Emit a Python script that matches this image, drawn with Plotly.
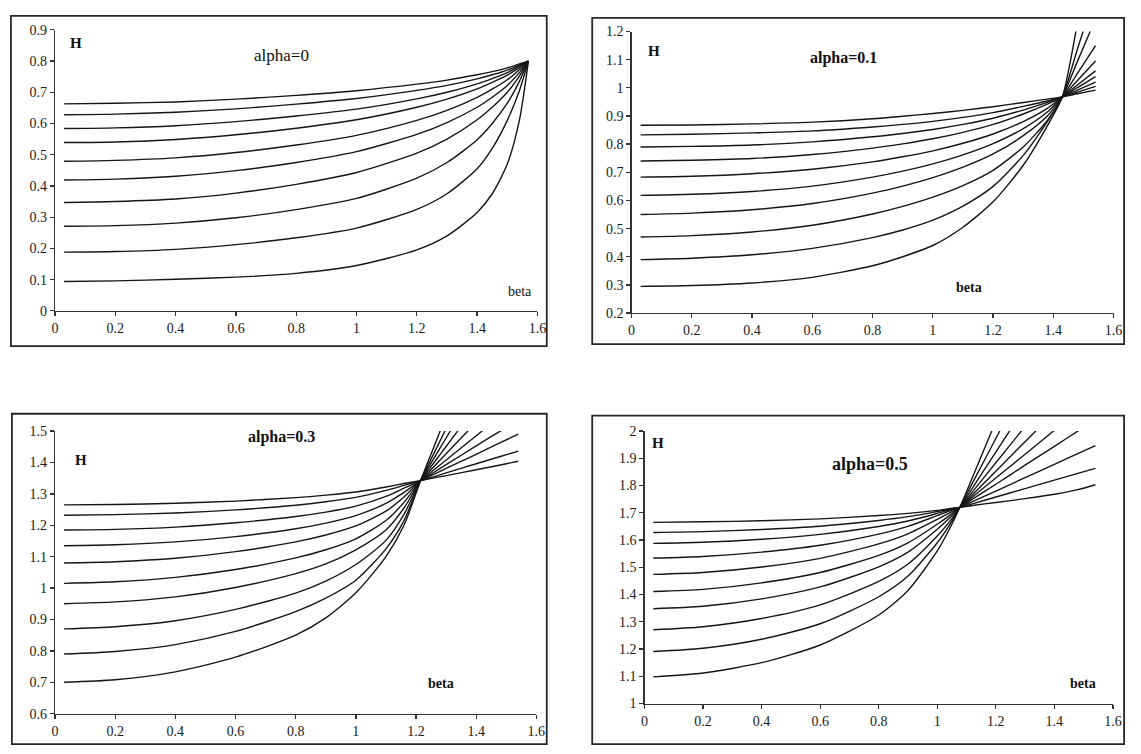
import plotly.graph_objects as go

# ---------------- data ----------------
# alpha = 0
BETA_A0 = [0.03, 0.2, 0.4, 0.6, 0.8, 1.0, 1.2, 1.3, 1.4, 1.45, 1.5, 1.54, 1.57]
H_A0 = [
    [0.094, 0.096, 0.101, 0.108, 0.120, 0.145, 0.195, 0.240, 0.315, 0.375, 0.470, 0.610, 0.800],
    [0.188, 0.190, 0.197, 0.212, 0.234, 0.265, 0.325, 0.375, 0.455, 0.520, 0.610, 0.705, 0.800],
    [0.271, 0.273, 0.281, 0.298, 0.324, 0.360, 0.425, 0.475, 0.548, 0.600, 0.665, 0.735, 0.800],
    [0.347, 0.350, 0.358, 0.377, 0.405, 0.443, 0.505, 0.550, 0.612, 0.652, 0.700, 0.752, 0.800],
    [0.419, 0.422, 0.431, 0.449, 0.475, 0.510, 0.565, 0.603, 0.652, 0.684, 0.722, 0.763, 0.800],
    [0.479, 0.482, 0.490, 0.507, 0.531, 0.562, 0.610, 0.642, 0.684, 0.710, 0.740, 0.772, 0.800],
    [0.539, 0.541, 0.549, 0.564, 0.585, 0.612, 0.652, 0.678, 0.711, 0.732, 0.755, 0.779, 0.800],
    [0.584, 0.586, 0.593, 0.606, 0.624, 0.646, 0.679, 0.700, 0.727, 0.744, 0.763, 0.784, 0.800],
    [0.628, 0.630, 0.636, 0.647, 0.662, 0.680, 0.706, 0.722, 0.743, 0.756, 0.771, 0.788, 0.800],
    [0.663, 0.665, 0.669, 0.678, 0.690, 0.705, 0.726, 0.739, 0.756, 0.766, 0.778, 0.791, 0.800],
]

# alpha = 0.1
BETA_A1 = [0.03, 0.2, 0.4, 0.6, 0.8, 0.9, 1.0, 1.1, 1.2, 1.3, 1.38, 1.43, 1.48, 1.54]
H_A1 = [
    [0.295, 0.298, 0.307, 0.327, 0.368, 0.400, 0.440, 0.505, 0.595, 0.725, 0.865, 0.968, 1.230, 1.580],
    [0.390, 0.395, 0.407, 0.430, 0.468, 0.495, 0.530, 0.580, 0.650, 0.760, 0.880, 0.968, 1.138, 1.340],
    [0.470, 0.475, 0.488, 0.512, 0.552, 0.579, 0.612, 0.653, 0.707, 0.790, 0.884, 0.968, 1.094, 1.245],
    [0.550, 0.555, 0.567, 0.589, 0.626, 0.651, 0.681, 0.718, 0.765, 0.830, 0.900, 0.968, 1.051, 1.150],
    [0.618, 0.622, 0.632, 0.651, 0.683, 0.704, 0.730, 0.762, 0.802, 0.855, 0.914, 0.968, 1.026, 1.095],
    [0.683, 0.686, 0.695, 0.711, 0.737, 0.755, 0.776, 0.803, 0.836, 0.880, 0.927, 0.968, 1.010, 1.060],
    [0.740, 0.743, 0.749, 0.763, 0.786, 0.801, 0.819, 0.842, 0.870, 0.907, 0.942, 0.968, 1.001, 1.040],
    [0.790, 0.792, 0.797, 0.808, 0.826, 0.838, 0.852, 0.870, 0.892, 0.921, 0.948, 0.968, 0.992, 1.020],
    [0.833, 0.835, 0.840, 0.847, 0.861, 0.870, 0.881, 0.895, 0.912, 0.934, 0.953, 0.968, 0.985, 1.005],
    [0.867, 0.868, 0.872, 0.878, 0.890, 0.899, 0.909, 0.920, 0.933, 0.948, 0.960, 0.968, 0.979, 0.992],
]

# alpha = 0.3
BETA_A3 = [0.03, 0.2, 0.4, 0.6, 0.8, 0.9, 1.0, 1.1, 1.16, 1.215, 1.26, 1.3, 1.4, 1.48, 1.54]
H_A3 = [
    [0.700, 0.708, 0.733, 0.780, 0.850, 0.905, 0.985, 1.100, 1.200, 1.342, 1.451, 1.549, 1.792, 1.986, 2.132],
    [0.790, 0.798, 0.820, 0.862, 0.925, 0.968, 1.025, 1.125, 1.215, 1.342, 1.430, 1.508, 1.703, 1.859, 1.976],
    [0.870, 0.877, 0.896, 0.932, 0.984, 1.022, 1.075, 1.152, 1.235, 1.342, 1.414, 1.478, 1.638, 1.766, 1.862],
    [0.950, 0.956, 0.972, 1.002, 1.046, 1.077, 1.122, 1.185, 1.255, 1.342, 1.400, 1.451, 1.579, 1.681, 1.758],
    [1.015, 1.020, 1.034, 1.059, 1.096, 1.122, 1.157, 1.215, 1.273, 1.342, 1.387, 1.428, 1.528, 1.609, 1.669],
    [1.080, 1.084, 1.095, 1.116, 1.147, 1.169, 1.198, 1.245, 1.290, 1.342, 1.377, 1.408, 1.485, 1.547, 1.594],
    [1.135, 1.138, 1.147, 1.164, 1.189, 1.207, 1.231, 1.270, 1.305, 1.342, 1.369, 1.393, 1.453, 1.500, 1.536],
    [1.185, 1.187, 1.194, 1.208, 1.228, 1.242, 1.261, 1.292, 1.318, 1.342, 1.363, 1.381, 1.426, 1.463, 1.490],
    [1.232, 1.234, 1.239, 1.249, 1.264, 1.275, 1.289, 1.311, 1.327, 1.342, 1.355, 1.367, 1.396, 1.419, 1.436],
    [1.265, 1.266, 1.270, 1.277, 1.288, 1.296, 1.306, 1.322, 1.333, 1.342, 1.351, 1.358, 1.377, 1.392, 1.404],
]

# alpha = 0.5
BETA_A5 = [0.03, 0.2, 0.4, 0.6, 0.8, 0.9, 1.0, 1.04, 1.077, 1.12, 1.2, 1.3, 1.4, 1.48, 1.54]
H_A5 = [
    [1.098, 1.112, 1.150, 1.215, 1.325, 1.415, 1.560, 1.637, 1.720, 1.830, 2.036, 2.293, 2.550, 2.756, 2.910],
    [1.191, 1.203, 1.236, 1.293, 1.392, 1.468, 1.590, 1.652, 1.720, 1.809, 1.973, 2.179, 2.385, 2.550, 2.674],
    [1.271, 1.282, 1.312, 1.362, 1.448, 1.512, 1.615, 1.665, 1.720, 1.791, 1.923, 2.088, 2.253, 2.385, 2.484],
    [1.348, 1.357, 1.384, 1.428, 1.502, 1.556, 1.640, 1.679, 1.720, 1.777, 1.884, 2.017, 2.150, 2.256, 2.336],
    [1.411, 1.419, 1.443, 1.481, 1.544, 1.590, 1.658, 1.689, 1.720, 1.766, 1.853, 1.961, 2.069, 2.155, 2.220],
    [1.474, 1.481, 1.501, 1.533, 1.586, 1.623, 1.676, 1.699, 1.720, 1.758, 1.828, 1.915, 2.003, 2.073, 2.125],
    [1.534, 1.540, 1.556, 1.581, 1.622, 1.650, 1.690, 1.706, 1.720, 1.750, 1.805, 1.875, 1.944, 2.000, 2.041],
    [1.588, 1.592, 1.603, 1.621, 1.650, 1.670, 1.698, 1.710, 1.720, 1.741, 1.780, 1.829, 1.878, 1.917, 1.947],
    [1.628, 1.631, 1.639, 1.651, 1.672, 1.686, 1.705, 1.713, 1.720, 1.733, 1.758, 1.789, 1.820, 1.845, 1.863],
    [1.665, 1.667, 1.671, 1.678, 1.690, 1.698, 1.709, 1.715, 1.720, 1.727, 1.738, 1.752, 1.768, 1.785, 1.803],
]

PANEL_TITLES = ["alpha=0", "alpha=0.1", "alpha=0.3", "alpha=0.5"]
Y_RANGES = [[0, 0.9], [0.2, 1.2], [0.6, 1.5], [1.0, 2.0]]
X_RANGE = [0, 1.6]

# ---------------- layout geometry (pixels) ----------------
W, HGT = 1141, 754
# plot areas: (left, right, top, bottom) in pixels
AREAS = [
    (51.6, 539.6, 23.3, 310.0),
    (634.8, 1122.4, 25.0, 312.3),
    (51.6, 538.5, 432.7, 721.0),
    (647.9, 1121.7, 432.7, 710.7),
]
BOXES = [
    (7, 9, 549, 346),
    (595, 11, 1133, 344),
    (8, 415, 549, 752),
    (595, 417, 1133, 752),
]


def px(x):
    return x / W


def py(y):
    return 1 - y / HGT


fig = go.Figure()
LINE = dict(color="#151515", width=1.4, shape="spline", smoothing=0.7)

datasets = [(BETA_A0, H_A0), (BETA_A1, H_A1), (BETA_A3, H_A3), (BETA_A5, H_A5)]
for i, (bx, hs) in enumerate(datasets):
    xa = "x" if i == 0 else f"x{i+1}"
    ya = "y" if i == 0 else f"y{i+1}"
    for h in hs:
        fig.add_trace(go.Scatter(x=bx, y=h, mode="lines", line=LINE,
                                 xaxis=xa, yaxis=ya, showlegend=False,
                                 hoverinfo="skip"))

SERIF = "Liberation Serif, Times New Roman, serif"
TICKFONT = dict(family=SERIF, size=14, color="#1a1a1a")
layout = dict(width=W, height=HGT, margin=dict(l=0, r=0, t=0, b=0),
              paper_bgcolor="white", plot_bgcolor="white", showlegend=False)

for i, (l, r, t, b) in enumerate(AREAS):
    sx = "" if i == 0 else str(i + 1)
    layout[f"xaxis{sx}"] = dict(
        domain=[px(l), px(r)], range=X_RANGE, anchor=f"y{sx}",
        dtick=0.2, tick0=0, showgrid=False, zeroline=False,
        showline=True, linecolor="#333", linewidth=1.3,
        ticks="outside", ticklen=4, tickcolor="#333", tickwidth=1.3,
        tickfont=TICKFONT, fixedrange=True)
    layout[f"yaxis{sx}"] = dict(
        domain=[py(b), py(t)], range=Y_RANGES[i], anchor=f"x{sx}",
        dtick=0.1, showgrid=False, zeroline=False,
        showline=True, linecolor="#333", linewidth=1.3,
        ticks="outside", ticklen=4, tickcolor="#333", tickwidth=1.3,
        tickfont=TICKFONT, fixedrange=True)

shapes = []
for (x0, y0, x1, y1) in BOXES:
    shapes.append(dict(type="rect", xref="paper", yref="paper",
                       x0=px(x0), x1=px(x1), y0=py(y1), y1=py(y0),
                       line=dict(color="#262626", width=1.8),
                       fillcolor="rgba(0,0,0,0)", layer="below"))
layout["shapes"] = shapes

ann_specs = [
    # (x px, y px, text, size, bold)
    (73, 37, "H", 15, True),
    (281, 49, PANEL_TITLES[0], 17, False),
    (522, 290, "beta", 14, False),
    (657, 45, "H", 15, True),
    (849, 52, PANEL_TITLES[1], 16, True),
    (976, 286, "beta", 14, True),
    (78, 462, "H", 15, True),
    (281, 439, PANEL_TITLES[2], 16, True),
    (442, 690, "beta", 14, True),
    (662, 445, "H", 15, True),
    (876, 466, PANEL_TITLES[3], 18, True),
    (1091, 690, "beta", 14, True),
]
anns = []
for (x, y, text, size, bold) in ann_specs:
    anns.append(dict(xref="paper", yref="paper", x=px(x), y=py(y),
                     text=f"<b>{text}</b>" if bold else text, showarrow=False,
                     xanchor="center", yanchor="middle",
                     font=dict(family=SERIF, size=size, color="#111")))
layout["annotations"] = anns

fig.update_layout(**layout)
fig.write_html("out.html",
               config={"displayModeBar": False, "staticPlot": True},
               post_script="document.body.style.margin='0';document.body.style.overflow='hidden';")
